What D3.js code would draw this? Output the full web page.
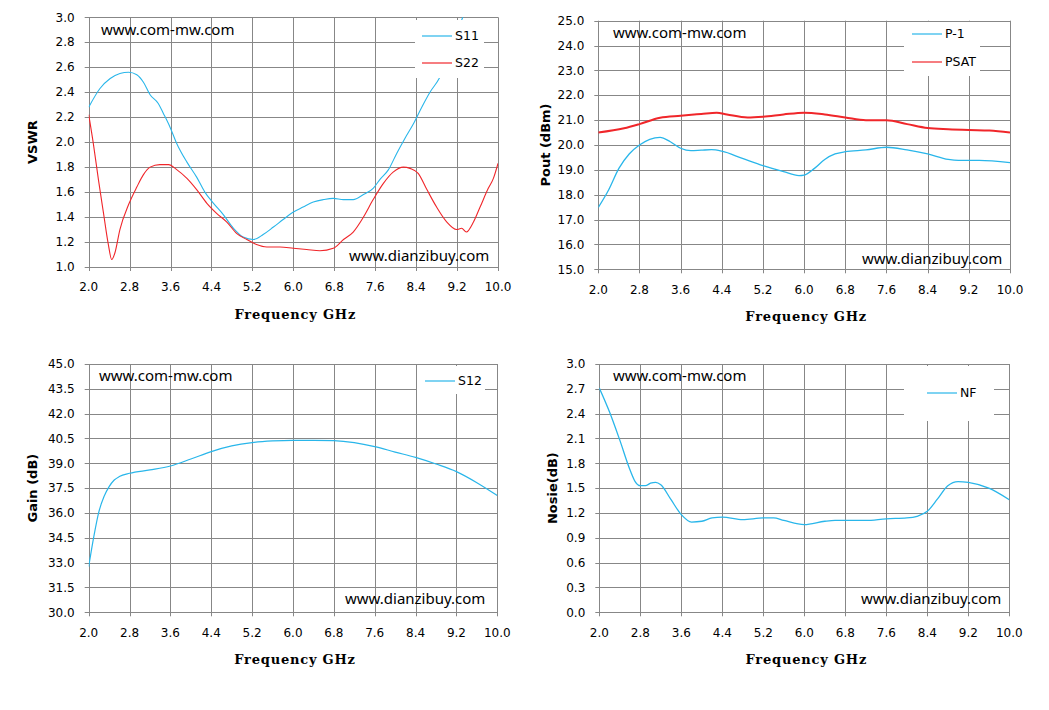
<!DOCTYPE html>
<html lang="en">
<head>
<meta charset="UTF-8">
<title>Amplifier test curves</title>
<style>
  body { margin: 0; background: #fff; }
  svg { display: block; }
  .tick-label { font-family: "DejaVu Sans", sans-serif; font-size: 12px; fill: #000; }
  .x-title { font-family: "DejaVu Serif", serif; font-weight: bold; font-size: 13px; letter-spacing: 0.8px; }
  .y-title { font-family: "DejaVu Sans", sans-serif; font-weight: bold; font-size: 13px; }
  .mark { font-family: "Noto Sans", sans-serif; font-size: 15px; fill: #000; }
  .legend-text { font-family: "DejaVu Sans", sans-serif; font-size: 12.5px; fill: #000; }
</style>
</head>
<script src="https://cdn.jsdelivr.net/npm/d3@7"></script>
<body>
<div id="graphic"></div>
<script>
// ---- data ----
var freqTicks = [2.0, 2.8, 3.6, 4.4, 5.2, 6.0, 6.8, 7.6, 8.4, 9.2, 10.0];

// VSWR
var s11Freq = [2.0, 2.22, 2.42, 2.61, 2.78, 2.94, 3.07, 3.2, 3.36, 3.46, 3.59, 3.72, 3.92, 4.11, 4.27, 4.44, 4.63, 4.83, 5.02, 5.22, 5.41, 5.61, 5.8, 6.0, 6.19, 6.39, 6.59, 6.78, 6.98, 7.17, 7.37, 7.56, 7.69, 7.86, 8.02, 8.18, 8.35, 8.51, 8.67, 8.85, 9.0, 9.15, 9.31, 9.4];
var s11 = [2.28, 2.43, 2.51, 2.55, 2.56, 2.54, 2.48, 2.38, 2.31, 2.23, 2.12, 1.99, 1.84, 1.72, 1.60, 1.51, 1.42, 1.31, 1.24, 1.22, 1.26, 1.32, 1.38, 1.44, 1.48, 1.52, 1.54, 1.55, 1.54, 1.54, 1.58, 1.63, 1.70, 1.78, 1.91, 2.03, 2.15, 2.28, 2.40, 2.51, 2.65, 2.82, 3.0, 3.1];
var s22Freq = [2.0, 2.09, 2.19, 2.29, 2.38, 2.45, 2.51, 2.61, 2.78, 2.94, 3.07, 3.2, 3.39, 3.56, 3.72, 3.92, 4.11, 4.31, 4.5, 4.7, 4.89, 5.09, 5.28, 5.48, 5.74, 6.0, 6.26, 6.52, 6.78, 6.98, 7.17, 7.37, 7.56, 7.76, 7.95, 8.15, 8.28, 8.44, 8.61, 8.8, 9.0, 9.19, 9.29, 9.38, 9.52, 9.65, 9.81, 9.91, 10.0];
var s22 = [2.22, 1.99, 1.70, 1.43, 1.19, 1.06, 1.11, 1.30, 1.50, 1.64, 1.74, 1.80, 1.82, 1.82, 1.78, 1.71, 1.62, 1.51, 1.43, 1.36, 1.27, 1.22, 1.18, 1.16, 1.16, 1.15, 1.14, 1.13, 1.15, 1.22, 1.28, 1.40, 1.54, 1.67, 1.76, 1.80, 1.79, 1.75, 1.62, 1.48, 1.36, 1.30, 1.31, 1.28, 1.36, 1.48, 1.63, 1.71, 1.83];
var vswrTicks = [1.0, 1.2, 1.4, 1.6, 1.8, 2.0, 2.2, 2.4, 2.6, 2.8, 3.0];

// Pout
var poutFreq = [2.0, 2.2, 2.4, 2.6, 2.8, 3.0, 3.2, 3.4, 3.6, 3.8, 4.0, 4.2, 4.4, 4.8, 5.2, 5.6, 5.9, 6.0, 6.2, 6.4, 6.6, 6.8, 7.2, 7.6, 8.0, 8.4, 8.8, 9.0, 9.4, 10.0];
var p1 = [17.49, 18.19, 19.06, 19.64, 20.0, 20.23, 20.31, 20.13, 19.87, 19.77, 19.79, 19.81, 19.75, 19.46, 19.17, 18.93, 18.77, 18.79, 19.06, 19.42, 19.64, 19.73, 19.80, 19.91, 19.80, 19.64, 19.42, 19.38, 19.38, 19.29];
var psatFreq = [2.0, 2.5, 2.8, 3.2, 3.6, 4.0, 4.3, 4.5, 4.9, 5.2, 5.6, 6.0, 6.4, 6.8, 7.2, 7.6, 8.0, 8.4, 8.8, 9.2, 9.6, 10.0];
var psat = [20.50, 20.67, 20.84, 21.10, 21.18, 21.25, 21.30, 21.23, 21.11, 21.14, 21.23, 21.30, 21.23, 21.11, 21.0, 21.0, 20.84, 20.68, 20.63, 20.60, 20.58, 20.50];
var poutTicks = [15, 16, 17, 18, 19, 20, 21, 22, 23, 24, 25];

// Gain
var gainFreq = [2.0, 2.1, 2.2, 2.3, 2.4, 2.5, 2.6, 2.8, 3.2, 3.6, 4.0, 4.4, 4.8, 5.2, 5.6, 6.0, 6.4, 6.8, 7.2, 7.6, 8.0, 8.4, 8.8, 9.2, 9.6, 9.8, 10.0];
var s12 = [32.76, 34.57, 36.08, 36.99, 37.59, 37.99, 38.20, 38.40, 38.60, 38.84, 39.26, 39.71, 40.05, 40.25, 40.35, 40.39, 40.39, 40.37, 40.25, 40.01, 39.68, 39.36, 38.96, 38.50, 37.83, 37.45, 37.05];
var gainTicks = [30.0, 31.5, 33.0, 34.5, 36.0, 37.5, 39.0, 40.5, 42.0, 43.5, 45.0];

// Noise figure
var nfFreq = [2.0, 2.2, 2.4, 2.6, 2.7, 2.8, 2.9, 3.0, 3.1, 3.2, 3.4, 3.6, 3.8, 4.0, 4.2, 4.4, 4.8, 5.2, 5.4, 5.6, 6.0, 6.4, 6.6, 7.2, 7.6, 8.0, 8.2, 8.4, 8.6, 8.8, 9.0, 9.2, 9.6, 10.0];
var nf = [2.71, 2.42, 2.08, 1.72, 1.58, 1.53, 1.53, 1.56, 1.57, 1.54, 1.36, 1.18, 1.09, 1.10, 1.14, 1.15, 1.12, 1.14, 1.14, 1.11, 1.06, 1.10, 1.11, 1.11, 1.13, 1.14, 1.16, 1.22, 1.37, 1.53, 1.58, 1.57, 1.50, 1.36];
var nfTicks = [0.0, 0.3, 0.6, 0.9, 1.2, 1.5, 1.8, 2.1, 2.4, 2.7, 3.0];

var BLUE = '#29b6ea';
var RED = '#f0262a';
var GRID = '#878787';

var svg = d3.select('#graphic').append('svg')
    .attr('width', 1049)
    .attr('height', 710);

function zip(xs, ys) {
    return xs.map(function (x, i) { return { f: x, v: ys[i] } });
}

var panels = [
    {
        id: 'p1', left: 88.7, right: 498, top: 17.3, bottom: 267,
        yTicks: vswrTicks, yFmt: '.1f', yTitle: 'VSWR', yTitleX: 32, curve: d3.curveMonotoneX,
        series: [
            { name: 'S11', data: zip(s11Freq, s11), color: BLUE, width: 1.1 },
            { name: 'S22', data: zip(s22Freq, s22), color: RED, width: 1.1 }
        ],
        legend: { x0: 415, x1: 484, y0: 20, y1: 78, lx: 422, rows: [36, 63] },
        markTop: [101, 30], markBot: [349, 256]
    },
    {
        id: 'p2', left: 598.3, right: 1010, top: 20.7, bottom: 269.3,
        yTicks: poutTicks, yFmt: '.1f', yTitle: 'Pout (dBm)', yTitleX: 545, curve: d3.curveMonotoneX,
        series: [
            { name: 'P-1', data: zip(poutFreq, p1), color: BLUE, width: 1.3 },
            { name: 'PSAT', data: zip(psatFreq, psat), color: RED, width: 2 }
        ],
        legend: { x0: 904, x1: 980, y0: 22, y1: 76, lx: 912, rows: [34, 62] },
        markTop: [613, 33], markBot: [862, 259]
    },
    {
        id: 'p3', left: 88.7, right: 497.3, top: 364, bottom: 612.3,
        yTicks: gainTicks, yFmt: '.1f', yTitle: 'Gain (dB)', yTitleX: 32, curve: d3.curveMonotoneX,
        series: [
            { name: 'S12', data: zip(gainFreq, s12), color: BLUE, width: 1.2 }
        ],
        legend: { x0: 417, x1: 485, y0: 366, y1: 394, lx: 425, rows: [381] },
        markTop: [99, 376], markBot: [345, 599]
    },
    {
        id: 'p4', left: 599.3, right: 1009.3, top: 364, bottom: 612.3,
        yTicks: nfTicks, yFmt: '.1f', yTitle: 'Nosie(dB)', yTitleX: 552, curve: d3.curveMonotoneX,
        series: [
            { name: 'NF', data: zip(nfFreq, nf), color: BLUE, width: 1.3 }
        ],
        legend: { x0: 904, x1: 994, y0: 366, y1: 421, lx: 927, rows: [393] },
        markTop: [613, 376], markBot: [861, 599]
    }
];

panels.forEach(drawPanel);

function drawPanel(p) {
    var x = d3.scaleLinear().domain([2, 10]).range([p.left, p.right]);
    var yMin = p.yTicks[0], yMax = p.yTicks[p.yTicks.length - 1];
    var y = d3.scaleLinear().domain([yMin, yMax]).range([p.bottom, p.top]);
    var g = svg.append('g');

    // grid lines
    g.append('g').selectAll('line.h')
        .data(p.yTicks)
        .join('line')
        .attr('x1', p.left - 4).attr('x2', p.right)
        .attr('y1', function (d) { return Math.round(y(d)) + 0.5 })
        .attr('y2', function (d) { return Math.round(y(d)) + 0.5 })
        .attr('stroke', GRID).attr('stroke-width', 1);
    g.append('g').selectAll('line.v')
        .data(freqTicks)
        .join('line')
        .attr('x1', function (d) { return Math.round(x(d)) + 0.5 })
        .attr('x2', function (d) { return Math.round(x(d)) + 0.5 })
        .attr('y1', p.top).attr('y2', p.bottom + 4)
        .attr('stroke', GRID).attr('stroke-width', 1);

    // tick labels
    g.append('g').selectAll('text')
        .data(p.yTicks)
        .join('text')
        .attr('class', 'tick-label')
        .attr('x', p.left - 14)
        .attr('y', function (d) { return y(d) })
        .attr('dy', '0.35em')
        .attr('text-anchor', 'end')
        .text(d3.format(p.yFmt));
    g.append('g').selectAll('text')
        .data(freqTicks)
        .join('text')
        .attr('class', 'tick-label')
        .attr('x', function (d) { return x(d) })
        .attr('y', p.bottom + 20)
        .attr('dy', '0.35em')
        .attr('text-anchor', 'middle')
        .text(d3.format('.1f'));

    // titles
    g.append('text')
        .attr('class', 'x-title')
        .attr('x', (p.left + p.right) / 2 + 2)
        .attr('y', p.bottom + 47)
        .attr('dy', '0.35em')
        .attr('text-anchor', 'middle')
        .text('Frequency GHz');
    g.append('text')
        .attr('class', 'y-title')
        .attr('transform', 'translate(' + p.yTitleX + ',' + (p.top + p.bottom) / 2 + ') rotate(-90)')
        .attr('dy', '0.35em')
        .attr('text-anchor', 'middle')
        .text(p.yTitle);

    // curves, clipped to the plot area
    svg.append('clipPath').attr('id', 'clip-' + p.id)
        .append('rect')
        .attr('x', p.left).attr('y', p.top)
        .attr('width', p.right - p.left).attr('height', p.bottom - p.top);

    var line = d3.line()
        .x(function (d) { return x(d.f) })
        .y(function (d) { return y(d.v) })
        .curve(p.curve);

    g.append('g').attr('clip-path', 'url(#clip-' + p.id + ')')
        .selectAll('path')
        .data(p.series)
        .join('path')
        .attr('d', function (s) { return line(s.data) })
        .attr('fill', 'none')
        .attr('stroke', function (s) { return s.color })
        .attr('stroke-width', function (s) { return s.width });

    // legend (white box over the grid)
    var L = p.legend;
    g.append('rect')
        .attr('x', L.x0).attr('y', L.y0)
        .attr('width', L.x1 - L.x0).attr('height', L.y1 - L.y0)
        .attr('fill', '#fff');
    var items = g.append('g').selectAll('g')
        .data(p.series)
        .join('g')
        .attr('transform', function (s, i) { return 'translate(0,' + L.rows[i] + ')' });
    items.append('line')
        .attr('x1', L.lx).attr('x2', L.lx + 30)
        .attr('stroke', function (s) { return s.color })
        .attr('stroke-width', 1.2);
    items.append('text')
        .attr('class', 'legend-text')
        .attr('x', L.lx + 33)
        .attr('dy', '0.35em')
        .text(function (s) { return s.name });

    // site marks
    g.append('text').attr('class', 'mark')
        .attr('x', p.markTop[0]).attr('y', p.markTop[1]).attr('dy', '0.35em')
        .text('www.com-mw.com');
    g.append('text').attr('class', 'mark')
        .attr('x', p.markBot[0]).attr('y', p.markBot[1]).attr('dy', '0.35em')
        .text('www.dianzibuy.com');
}
</script>
</body>
</html>
